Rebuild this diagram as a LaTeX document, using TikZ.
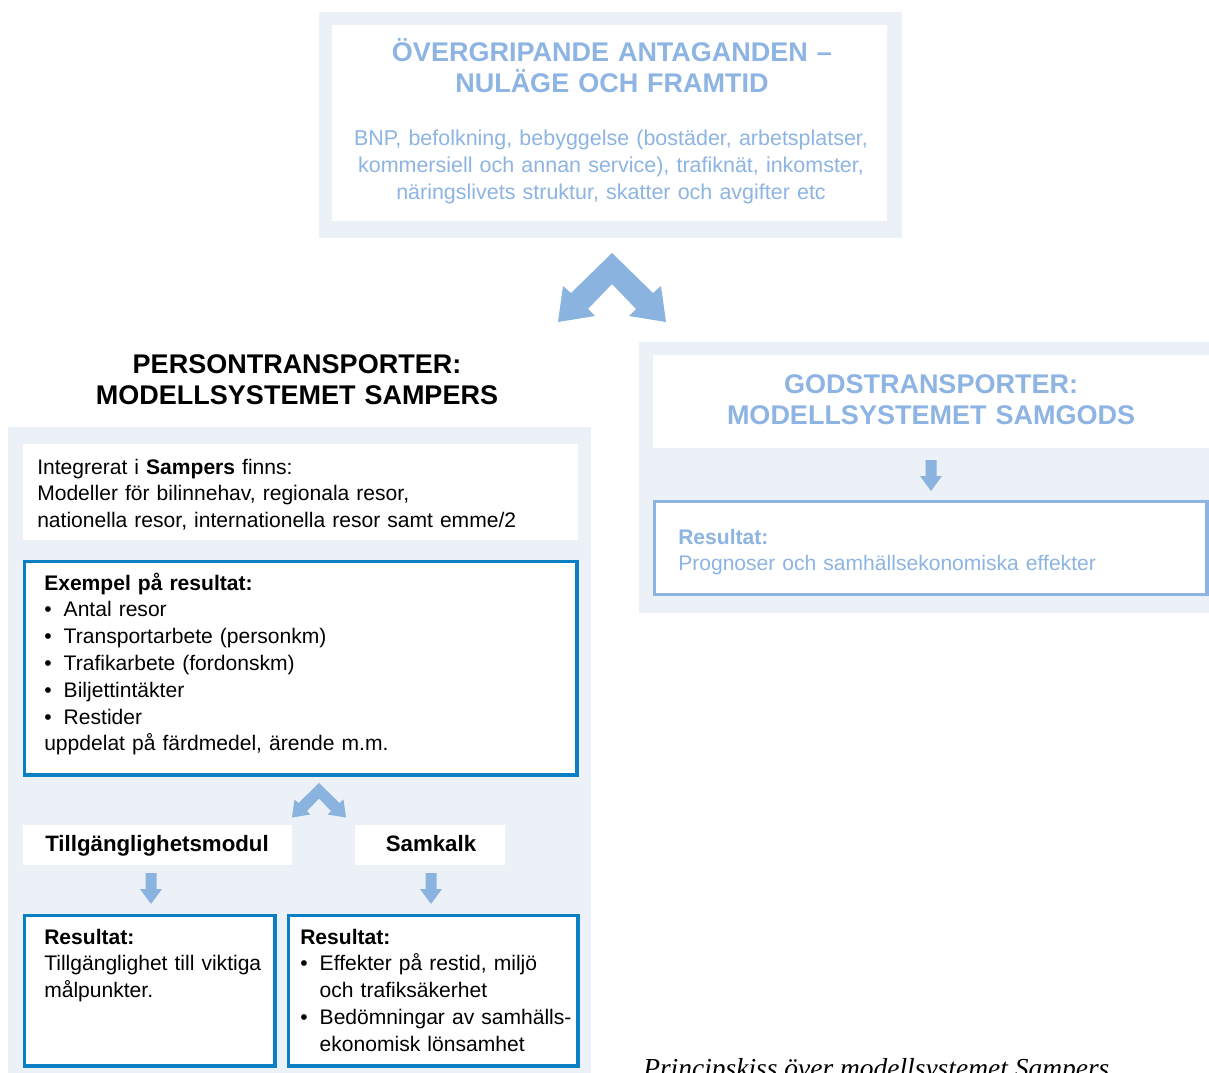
\documentclass[tikz,border=0pt]{standalone}
\usepackage{fontspec}
\setmainfont{Liberation Sans}
\newfontfamily\capfont{Liberation Serif}
\definecolor{panel}{HTML}{ECF0F7}
\definecolor{lblue}{HTML}{8DB4E2}
\definecolor{arrowblue}{HTML}{8AB4DF}
\definecolor{dblue}{HTML}{0A7FC4}
\newcommand\mybul{\makebox[14.6pt][l]{•}}
\newcommand\myind{\hspace*{14.6pt}}
\begin{document}
\begin{tikzpicture}[x=0.75pt,y=-0.75pt,
  panelbg/.style={fill=panel,draw=none},
  whitebg/.style={fill=white,draw=none},
  resframe/.style={fill=white,draw=dblue,line width=2.3pt},
  lresframe/.style={fill=white,draw=lblue,line width=2.3pt},
  ttl/.style={font=\fontsize{20.25}{23.25}\selectfont\bfseries,align=center,anchor=base,inner sep=0pt,text width=440pt},
  bodyc/.style={font=\fontsize{16.1}{20.25}\selectfont,align=center,anchor=base,inner sep=0pt,text width=420pt},
  bodyl/.style={font=\fontsize{15.8}{20.1}\selectfont,align=left,anchor=base west,inner sep=0pt},
  modtxt/.style={font=\fontsize{16.7}{20}\selectfont\bfseries,anchor=base,inner sep=0pt},
  chev/.pic={\fill[arrowblue] (0,0) -- (41,40) -- (49,33) -- (54,69) -- (17,63) -- (24,56) -- (0,31) -- (-24,56) -- (-17,63) -- (-54,69) -- (-49,33) -- (-41,40) -- cycle;},
  downarr/.pic={\fill[arrowblue] (-5.5,0) -- (5.5,0) -- (5.5,16) -- (11,16) -- (0,31) -- (-11,16) -- (-5.5,16) -- cycle;}
]
\useasboundingbox (0,0) rectangle (1209,1073);
\clip (0,0) rectangle (1209,1073);

% ---- top box ----
\path[panelbg] (319,12) rectangle (902,238);
\path[whitebg] (332,25) rectangle (887,221);
\node[ttl,text=lblue] (toptitle) at (612,62) {ÖVERGRIPANDE ANTAGANDEN –\\NULÄGE OCH FRAMTID};
\node[bodyc,text=lblue] (topbody) at (611,146) {BNP, befolkning, bebyggelse (bostäder, arbetsplatser,\\kommersiell och annan service), trafiknät, inkomster,\\näringslivets struktur, skatter och avgifter etc};

% big chevron
\pic (bigchev) at (612,253) {chev};

% ---- left: persontransporter ----
\node[ttl,text=black] (lefttitle) at (297,373) {PERSONTRANSPORTER:\\MODELLSYSTEMET SAMPERS};
\path[panelbg] (8,427) rectangle (591,1073);
\path[whitebg] (23,444) rectangle (578,540);
\node[bodyl,text width=400pt] (integ) at (37,474) {Integrerat i \textbf{Sampers} finns:\\Modeller för bilinnehav, regionala resor,\\nationella resor, internationella resor samt emme/2};

\path[resframe] (24.5,561.5) rectangle (577,775);
\node[bodyl,text width=400pt] (exempel) at (44,590) {\textbf{Exempel på resultat:}\\\mybul Antal resor\\\mybul Transportarbete (personkm)\\\mybul Trafikarbete (fordonskm)\\\mybul Biljettintäkter\\\mybul Restider\\uppdelat på färdmedel, ärende m.m.};

\pic[scale=0.5] (smallchev) at (319,783) {chev};

\path[whitebg] (23,825) rectangle (292,865);
\node[modtxt] (tillg) at (157,851) {Tillgänglighetsmodul};
\path[whitebg] (355,825) rectangle (505,865);
\node[modtxt] (samkalk) at (431,851) {Samkalk};

\pic (arrA) at (151,873) {downarr};
\pic (arrB) at (431,873) {downarr};

\path[resframe] (24.5,915.5) rectangle (275,1066);
\node[bodyl,text width=190pt] (resA) at (44,944) {\textbf{Resultat:}\\Tillgänglighet till viktiga\\målpunkter.};
\path[resframe] (288.5,915.5) rectangle (578,1066);
\node[bodyl,text width=210pt] (resB) at (300,944) {\textbf{Resultat:}\\\mybul Effekter på restid, miljö\\\myind och trafiksäkerhet\\\mybul Bedömningar av samhälls-\\\myind ekonomisk lönsamhet};

% ---- right: godstransporter ----
\path[panelbg] (639,342) rectangle (1209,613);
\path[whitebg] (653,355) rectangle (1209,448);
\node[ttl,text=lblue] (righttitle) at (931,393) {GODSTRANSPORTER:\\MODELLSYSTEMET SAMGODS};
\pic (arrC) at (931,460) {downarr};
\path[lresframe] (654.5,501.5) rectangle (1207,594.5);
\node[bodyl,text width=400pt,text=lblue] (resC) at (678,544) {\textbf{Resultat:}\\Prognoser och samhällsekonomiska effekter};

% ---- caption (cut off by the page edge, as in the reference) ----
\node[font=\capfont\itshape\fontsize{20.6}{24}\selectfont,anchor=base west,inner sep=0pt] (caption) at (643,1077) {Principskiss över modellsystemet Sampers};
\end{tikzpicture}
\end{document}
